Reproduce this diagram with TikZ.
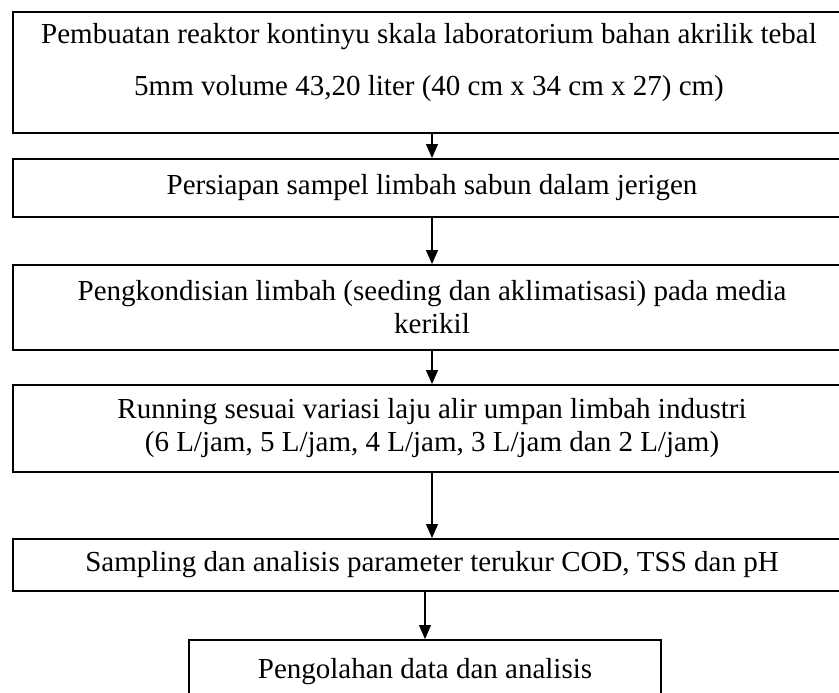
\documentclass[tikz,border=0pt]{standalone}
\usepackage{fontspec}
\setmainfont{Liberation Serif}
\usetikzlibrary{arrows.meta}
\begin{document}
\begin{tikzpicture}[x=1pt,y=-1pt,
  box/.style={draw=black, line width=2pt, rectangle, inner sep=0pt, minimum width=838pt},
  txt/.style={align=center, font=\fontsize{29}{33}\selectfont, inner sep=0pt},
  flow/.style={draw=black, line width=1.3pt, -{Triangle[width=12pt,length=14pt]}}]
\useasboundingbox (0,0) rectangle (839,693);
\node[box, minimum height=121pt] (b1) at (432,72.5) {};
\node[txt, font=\fontsize{29}{52}\selectfont] (t1) at (429,63) {Pembuatan reaktor kontinyu skala laboratorium bahan akrilik tebal\\5mm volume 43,20 liter (40 cm x 34 cm x 27) cm)};
\node[box, txt, minimum height=58pt] (b2) at (432,188) {Persiapan sampel limbah sabun dalam jerigen};
\node[box, txt, minimum height=85pt] (b3) at (432,307.5) {Pengkondisian limbah (seeding dan aklimatisasi) pada media\\kerikil};
\node[box, txt, minimum height=87pt] (b4) at (432,428.5) {Running sesuai variasi laju alir umpan limbah industri\\(6 L/jam, 5 L/jam, 4 L/jam, 3 L/jam dan 2 L/jam)};
\node[box, txt, minimum height=52pt] (b5) at (432,565) {Sampling dan analisis parameter terukur COD, TSS dan pH};
\node[box, txt, minimum width=472pt, minimum height=64pt] (b6) at (425,672) {Pengolahan data dan analisis};
\draw[flow] (b1) -- (b2);
\draw[flow] (b2) -- (b3);
\draw[flow] (b3) -- (b4);
\draw[flow] (b4) -- (b5);
\draw[flow] (b5.south -| b6.north) -- (b6.north);
\end{tikzpicture}
\end{document}
